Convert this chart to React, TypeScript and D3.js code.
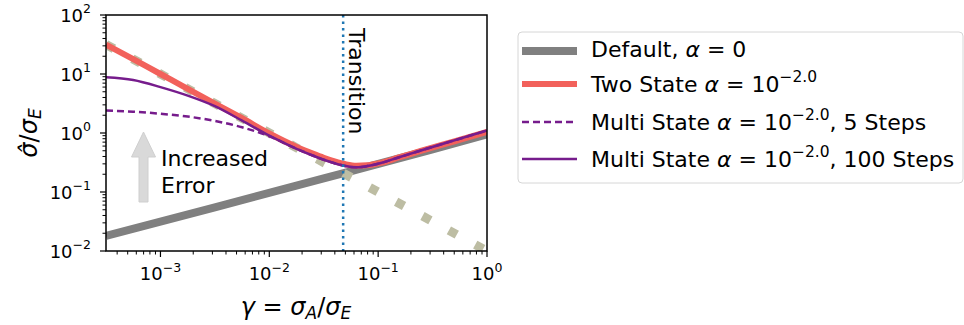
import React from 'react';
import * as d3 from 'd3';

// gamma sample points (sigma_A / sigma_E)
const gammas = [0.000316, 0.000562, 0.001, 0.00178, 0.00316, 0.00562, 0.01, 0.0178, 0.0251, 0.0316, 0.0398, 0.0501, 0.0631, 0.0794, 0.1, 0.158, 0.251, 0.501, 1];
const twoState = [31.6, 17.8, 10, 5.62, 3.16, 1.78, 0.98, 0.582, 0.447, 0.38, 0.33, 0.295, 0.278, 0.283, 0.305, 0.389, 0.501, 0.724, 1.047];
const multi100 = [8.8, 7.9, 6.0, 4.3, 2.85, 1.62, 0.9, 0.54, 0.415, 0.352, 0.307, 0.275, 0.262, 0.275, 0.302, 0.392, 0.51, 0.75, 1.1];
const multi5 = [2.4, 2.3, 2.12, 1.9, 1.6, 1.25, 0.88, 0.54, 0.415, 0.352, 0.307, 0.275, 0.262, 0.275, 0.302, 0.392, 0.51, 0.75, 1.1];

const defaultGamma = [0.000316, 0.00316, 0.0316, 0.316, 1];
const defaultVals = [0.018, 0.055, 0.17, 0.53, 0.95];

const boundGamma = [0.000316, 0.001, 0.00316, 0.01, 0.0316, 0.1, 0.316, 1];
const boundVals = [31.6, 10, 3.16, 1.0, 0.316, 0.1, 0.0316, 0.01];

const transitionGamma = 0.0477;

const xDomain = [0.000316, 1];
const yDomain = [0.01, 100];

const legendItems = [
  { pre: 'Default, ', exp: null, post: '', color: '#808080', width: 8, dash: null },
  { pre: 'Two State ', exp: '−2.0', post: '', color: '#f2615b', width: 6, dash: null },
  { pre: 'Multi State ', exp: '−2.0', post: ', 5 Steps', color: '#761c8c', width: 2.5, dash: '7 4' },
  { pre: 'Multi State ', exp: '−2.0', post: ', 100 Steps', color: '#761c8c', width: 2.5, dash: null },
];
const legendRows = [51, 84, 122, 159];

const FONT = 'DejaVu Sans, sans-serif';

export default function App() {
  const left = 106, right = 487, top = 15, bottom = 251;
  const x = d3.scaleLog().domain(xDomain).range([left, right]);
  const y = d3.scaleLog().domain(yDomain).range([bottom, top]);

  const line = d3.line<[number, number]>()
    .x(d => x(d[0]))
    .y(d => y(d[1]))
    .curve(d3.curveMonotoneX);

  const zip = (gs: number[], vs: number[]) => gs.map((g, i) => [g, vs[i]] as [number, number]);

  const isMajor = (v: number) => Math.abs(Math.log10(v) - Math.round(Math.log10(v))) < 1e-6;
  const xTicks = x.ticks().filter(v => v >= xDomain[0] * 0.999 && v <= 1.0001);
  const yTicks = y.ticks();
  const expLabel = (v: number) => {
    const e = Math.round(Math.log10(v));
    return e < 0 ? '−' + Math.abs(e) : String(e);
  };

  return (
    <svg width={964} height={325} style={{ position: 'absolute', left: 0, top: 0, background: 'white' }} fontFamily={FONT}>
      <defs>
        <clipPath id="plotclip">
          <rect x={left} y={top} width={right - left} height={bottom - top} />
        </clipPath>
      </defs>

      {/* arrow */}
      <polygon
        points="143.5,132 131.5,157 139,157 139,202 148,202 148,157 155.5,157"
        fill="#d9d9d9" stroke="#cfcfcf" strokeWidth={1} />
      <text x={161} y={166} fontSize={22} fill="#000">Increased</text>
      <text x={161} y={193} fontSize={22} fill="#000">Error</text>

      <g clipPath="url(#plotclip)" fill="none">
        <path d={line(zip(defaultGamma, defaultVals)) || ''} stroke="#808080" strokeWidth={8} />
        <path d={line(zip(boundGamma, boundVals)) || ''} stroke="#bdbda3" strokeWidth={9} strokeDasharray="9 21" />
        <path d={line(zip(gammas, twoState)) || ''} stroke="#f2615b" strokeWidth={6} />
        <path d={line(zip(gammas, multi5)) || ''} stroke="#761c8c" strokeWidth={2.5} strokeDasharray="7 4" />
        <path d={line(zip(gammas, multi100)) || ''} stroke="#761c8c" strokeWidth={2.5} />
        <line x1={x(transitionGamma)} x2={x(transitionGamma)} y1={top} y2={bottom} stroke="#1f77b4" strokeWidth={2.5} strokeDasharray="2.5 4" />
      </g>

      <text transform={`translate(${x(transitionGamma) + 6},28) rotate(90)`} fontSize={22} fill="#000">Transition</text>

      {/* frame */}
      <rect x={left} y={top} width={right - left} height={bottom - top} fill="none" stroke="#000" strokeWidth={1.5} />

      {/* x ticks */}
      {xTicks.map((v, i) => {
        const major = isMajor(v);
        return (
          <g key={'x' + i}>
            <line x1={x(v)} x2={x(v)} y1={bottom} y2={bottom + (major ? 6 : 3.5)} stroke="#000" strokeWidth={major ? 1.2 : 1} />
            {major && (
              <text x={x(v)} y={280} textAnchor="middle" fontSize={18}>
                <tspan>10</tspan>
                <tspan dy={-8.5} fontSize={12.5}>{expLabel(v)}</tspan>
              </text>
            )}
          </g>
        );
      })}

      {/* y ticks */}
      {yTicks.map((v, i) => {
        const major = isMajor(v);
        return (
          <g key={'y' + i}>
            <line x1={left} x2={left - (major ? 6 : 3.5)} y1={y(v)} y2={y(v)} stroke="#000" strokeWidth={major ? 1.2 : 1} />
            {major && (
              <text x={91} y={y(v) + 6.5} textAnchor="end" fontSize={18}>
                <tspan>10</tspan>
                <tspan dy={-8.5} fontSize={12.5}>{expLabel(v)}</tspan>
              </text>
            )}
          </g>
        );
      })}

      {/* axis labels */}
      <text x={296} y={315} textAnchor="middle" fontSize={24}>
        <tspan fontStyle="italic">γ</tspan>
        <tspan> = </tspan>
        <tspan fontStyle="italic">σ</tspan>
        <tspan fontStyle="italic" fontSize={17} dy={4}>A</tspan>
        <tspan dy={-4}>/</tspan>
        <tspan fontStyle="italic">σ</tspan>
        <tspan fontStyle="italic" fontSize={17} dy={4}>E</tspan>
      </text>
      <text transform="translate(37,133) rotate(-90)" textAnchor="middle" fontSize={24}>
        <tspan fontStyle="italic">σ̂</tspan>
        <tspan>/</tspan>
        <tspan fontStyle="italic">σ</tspan>
        <tspan fontStyle="italic" fontSize={17} dy={4}>E</tspan>
      </text>

      {/* legend */}
      <rect x={518} y={32} width={445} height={151} rx={4} fill="#fff" stroke="#d6d6d6" strokeWidth={1} />
      {legendItems.map((it, i) => {
        const cy = legendRows[i];
        return (
          <g key={'l' + i}>
            <line x1={522} x2={577} y1={cy} y2={cy} stroke={it.color} strokeWidth={it.width} strokeDasharray={it.dash || undefined} />
            <text x={591} y={i === 0 ? cy + 6 : cy + 8} fontSize={22}>
              <tspan>{it.pre}</tspan>
              <tspan fontStyle="italic">α</tspan>
              <tspan> = </tspan>
              {it.exp === null ? (
                <tspan>0</tspan>
              ) : (
                <>
                  <tspan>10</tspan>
                  <tspan fontSize={15.5} dy={-10}>{it.exp}</tspan>
                  <tspan dy={10}>{it.post}</tspan>
                </>
              )}
            </text>
          </g>
        );
      })}
    </svg>
  );
}
